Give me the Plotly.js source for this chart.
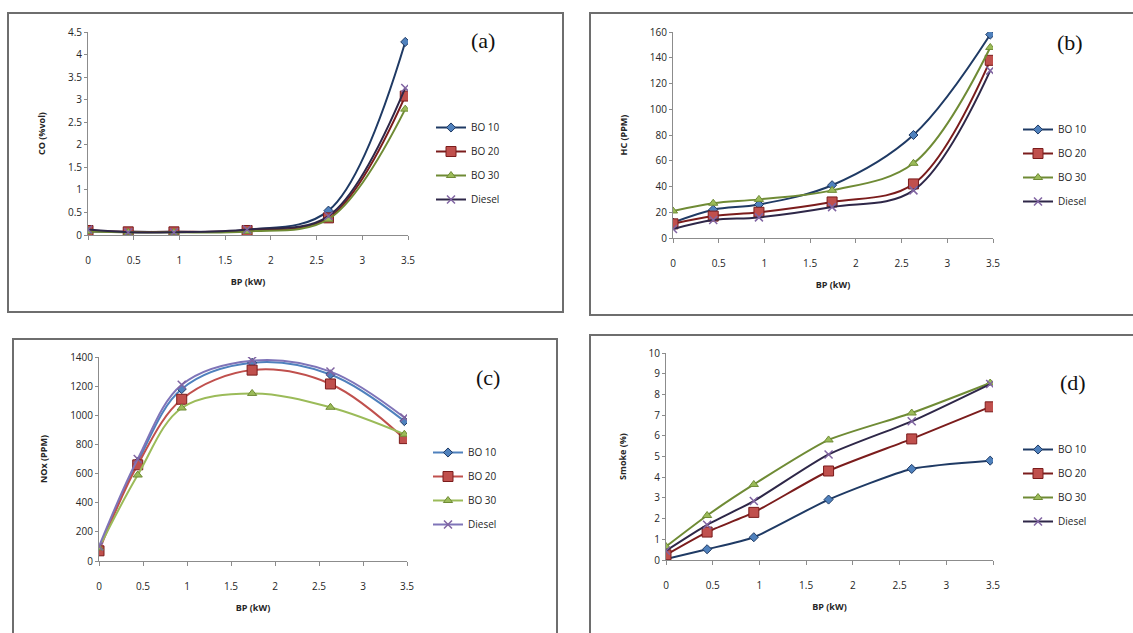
<!DOCTYPE html>
<html>
<head>
<meta charset="utf-8">
<script src="https://cdn.plot.ly/plotly-3.0.1.min.js"></script>
<style>
  html, body { margin: 0; padding: 0; background: #ffffff; }
  #chart { width: 1133px; height: 633px; }
</style>
</head>
<body>
<div id="chart"></div>
<script>
// ---------- data ----------
const bp = [0, 0.44, 0.94, 1.74, 2.63, 3.47];
const seriesNames = ["BO 10", "BO 20", "BO 30", "Diesel"];

const co_bo10   = [0.08, 0.07, 0.07, 0.11, 0.54, 4.28];
const co_bo20   = [0.10, 0.07, 0.07, 0.10, 0.38, 3.08];
const co_bo30   = [0.08, 0.06, 0.06, 0.08, 0.35, 2.79];
const co_diesel = [0.12, 0.06, 0.06, 0.12, 0.42, 3.26];

const hc_bo10   = [12, 22, 26, 41, 80, 158];
const hc_bo20   = [11, 17, 20, 28, 42, 138];
const hc_bo30   = [21, 27, 30, 37, 58, 148];
const hc_diesel = [7, 14, 16, 24, 37, 130];

const nox_bo10   = [80, 680, 1180, 1360, 1280, 960];
const nox_bo20   = [70, 660, 1110, 1310, 1215, 840];
const nox_bo30   = [90, 590, 1050, 1150, 1055, 870];
const nox_diesel = [100, 700, 1210, 1375, 1300, 985];

const smoke_bo10   = [0.05, 0.52, 1.10, 2.92, 4.40, 4.80];
const smoke_bo20   = [0.25, 1.35, 2.30, 4.30, 5.85, 7.40];
const smoke_bo30   = [0.65, 2.15, 3.65, 5.80, 7.10, 8.55];
const smoke_diesel = [0.45, 1.70, 2.85, 5.10, 6.70, 8.50];

const xTickLabels = ["0", "0.5", "1", "1.5", "2", "2.5", "3", "3.5"];
const xTickVals = [0, 0.5, 1, 1.5, 2, 2.5, 3, 3.5];

// ---------- styling ----------
const W = 1133, H = 633;
const px = v => v / W;
const py = v => 1 - v / H;

const darkLines  = ["#1F3A64", "#7B1C1C", "#6F8B35", "#2E2748"];
const lightLines = ["#4F81BD", "#C0504D", "#9BBB59", "#7F74B8"];
const markerFill = ["#4F81BD", "#C0504D", "#9BBB59", "#8064A2"];
const markerEdge = ["#1F3A64", "#7B1C1C", "#6F8B35", "#8064A2"];
const symbols = ["diamond", "square", "triangle-up", "x-thin"];
const sizes = [7, 10, 8, 8];

const panels = [
  { key: "a", xa: "x",  ya: "y",  leg: "legend",  data: [co_bo10, co_bo20, co_bo30, co_diesel],
    lines: darkLines, smooth: 1.0, yTitle: "CO (%vol)", yRange: [0, 4.5], dtick: 0.5,
    dom: { x: [88, 408], y: [32, 235] }, legPos: [431, 113], label: [483, 40],
    box: [8, 13, 563, 312] },
  { key: "b", xa: "x2", ya: "y2", leg: "legend2", data: [hc_bo10, hc_bo20, hc_bo30, hc_diesel],
    lines: darkLines, smooth: 1.0, yTitle: "HC (PPM)", yRange: [0, 160], dtick: 20,
    dom: { x: [673, 993], y: [32, 238] }, legPos: [1018, 115], label: [1070, 43],
    box: [590, 13, 1140, 315] },
  { key: "c", xa: "x3", ya: "y3", leg: "legend3", data: [nox_bo10, nox_bo20, nox_bo30, nox_diesel],
    lines: lightLines, smooth: 1.0, yTitle: "NOx (PPM)", yRange: [0, 1400], dtick: 200,
    dom: { x: [99, 407], y: [357, 561] }, legPos: [428, 438], label: [488, 377],
    box: [13, 339, 557, 640] },
  { key: "d", xa: "x4", ya: "y4", leg: "legend4", data: [smoke_bo10, smoke_bo20, smoke_bo30, smoke_diesel],
    lines: darkLines, smooth: 0.6, yTitle: "Smoke (%)", yRange: [0, 10], dtick: 1,
    dom: { x: [666, 993], y: [353, 560] }, legPos: [1018, 435], label: [1073, 382],
    box: [590, 335, 1140, 640] }
];

const traces = [];
panels.forEach(p => {
  p.data.forEach((vals, i) => {
    traces.push({
      type: "scatter",
      mode: "lines+markers",
      x: bp,
      y: vals,
      name: seriesNames[i],
      xaxis: p.xa,
      yaxis: p.ya,
      legend: p.leg,
      legendgroup: p.key + i,
      line: { color: p.lines[i], width: 2, shape: "spline", smoothing: p.smooth },
      marker: {
        symbol: symbols[i],
        size: sizes[i],
        color: markerFill[i],
        line: { color: markerEdge[i], width: i === 3 ? 1.5 : 1 }
      },
      hoverinfo: "x+y+name"
    });
  });
});

const tickFont = { family: "Open Sans, Noto Sans, sans-serif", size: 10, color: "#262626" };
const titleFont = { family: "Open Sans, Noto Sans, sans-serif", size: 9, color: "#262626", weight: "bold" };
const axisBase = {
  showgrid: false, zeroline: false, showline: true, linecolor: "#8C8C8C", linewidth: 1,
  ticks: "outside", ticklen: 4, tickcolor: "#8C8C8C", tickfont: tickFont, fixedrange: true
};

const layout = {
  width: W, height: H,
  margin: { l: 0, r: 0, t: 0, b: 0 },
  paper_bgcolor: "#ffffff",
  plot_bgcolor: "rgba(0,0,0,0)",
  showlegend: true,
  shapes: [],
  annotations: []
};

panels.forEach(p => {
  const xName = p.xa === "x" ? "xaxis" : "xaxis" + p.xa.slice(1);
  const yName = p.ya === "y" ? "yaxis" : "yaxis" + p.ya.slice(1);
  layout[xName] = Object.assign({}, axisBase, {
    domain: [px(p.dom.x[0]), px(p.dom.x[1])],
    anchor: p.ya,
    range: [0, 3.5],
    tickvals: xTickVals,
    ticktext: xTickLabels,
    ticklabelstandoff: 12,
    title: { text: "BP (kW)", font: titleFont, standoff: 12 }
  });
  layout[yName] = Object.assign({}, axisBase, {
    domain: [py(p.dom.y[1]), py(p.dom.y[0])],
    anchor: p.xa,
    range: p.yRange,
    dtick: p.dtick,
    tick0: 0,
    ticklen: 3,
    title: { text: p.yTitle, font: titleFont, standoff: 20 }
  });
  layout[p.leg] = {
    x: px(p.legPos[0]), y: py(p.legPos[1]),
    xanchor: "left", yanchor: "top",
    bgcolor: "rgba(0,0,0,0)",
    borderwidth: 0,
    traceorder: "grouped",
    tracegroupgap: 5,
    itemwidth: 30,
    font: { family: "Open Sans, Noto Sans, sans-serif", size: 10, color: "#262626" }
  };
  layout.shapes.push({
    type: "rect", xref: "paper", yref: "paper",
    x0: px(p.box[0]), x1: px(p.box[2]), y0: py(p.box[3]), y1: py(p.box[1]),
    line: { color: "#6E6E6E", width: 2 }, fillcolor: "rgba(0,0,0,0)", layer: "below"
  });
  layout.annotations.push({
    xref: "paper", yref: "paper",
    x: px(p.label[0]), y: py(p.label[1]),
    xanchor: "center", yanchor: "middle",
    text: "(" + p.key + ")",
    showarrow: false,
    font: { family: "Liberation Serif, DejaVu Serif, serif", size: 22, color: "#111111" }
  });
});

Plotly.newPlot("chart", traces, layout, { displayModeBar: false, staticPlot: true });
</script>
</body>
</html>
